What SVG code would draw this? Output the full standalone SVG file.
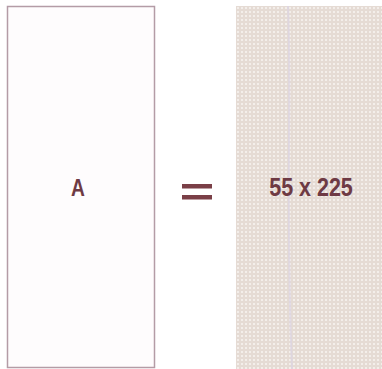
<svg xmlns="http://www.w3.org/2000/svg" width="382" height="369" viewBox="0 0 382 369">
<style>
.lbl{font-family:"Liberation Sans",Arial,sans-serif;font-weight:bold;fill:#6e3a44;}
</style>
<defs>
<pattern id="dots" x="236" y="6" width="4" height="4" patternUnits="userSpaceOnUse">
<rect width="4" height="4" fill="#e5dbd4"/>
<rect x="1" y="1" width="2" height="2" fill="#f3eeea"/>
</pattern>
</defs>
<rect width="382" height="369" fill="#ffffff"/>
<g id="nodeA">
<rect x="7.5" y="6.5" width="147" height="361" fill="#fefcfd" stroke="#b49ca6" stroke-width="1.5"/>
<text class="lbl" transform="translate(78 196) scale(0.8 1)" font-size="24" text-anchor="middle">A</text>
</g>
<g id="equals">
<rect x="182" y="184" width="30" height="4.5" fill="#7a3f47"/>
<rect x="182" y="195" width="30" height="4.5" fill="#7a3f47"/>
</g>
<g id="nodeB">
<rect x="236" y="6" width="146" height="363" fill="url(#dots)"/>
<path d="M288 6 C 292 100, 285 200, 292 369" stroke="#dcd4e4" stroke-width="2" fill="none" opacity="0.7"/>
<text class="lbl" transform="translate(311 196) scale(0.86 1)" font-size="25" text-anchor="middle">55 x 225</text>
</g>
</svg>
